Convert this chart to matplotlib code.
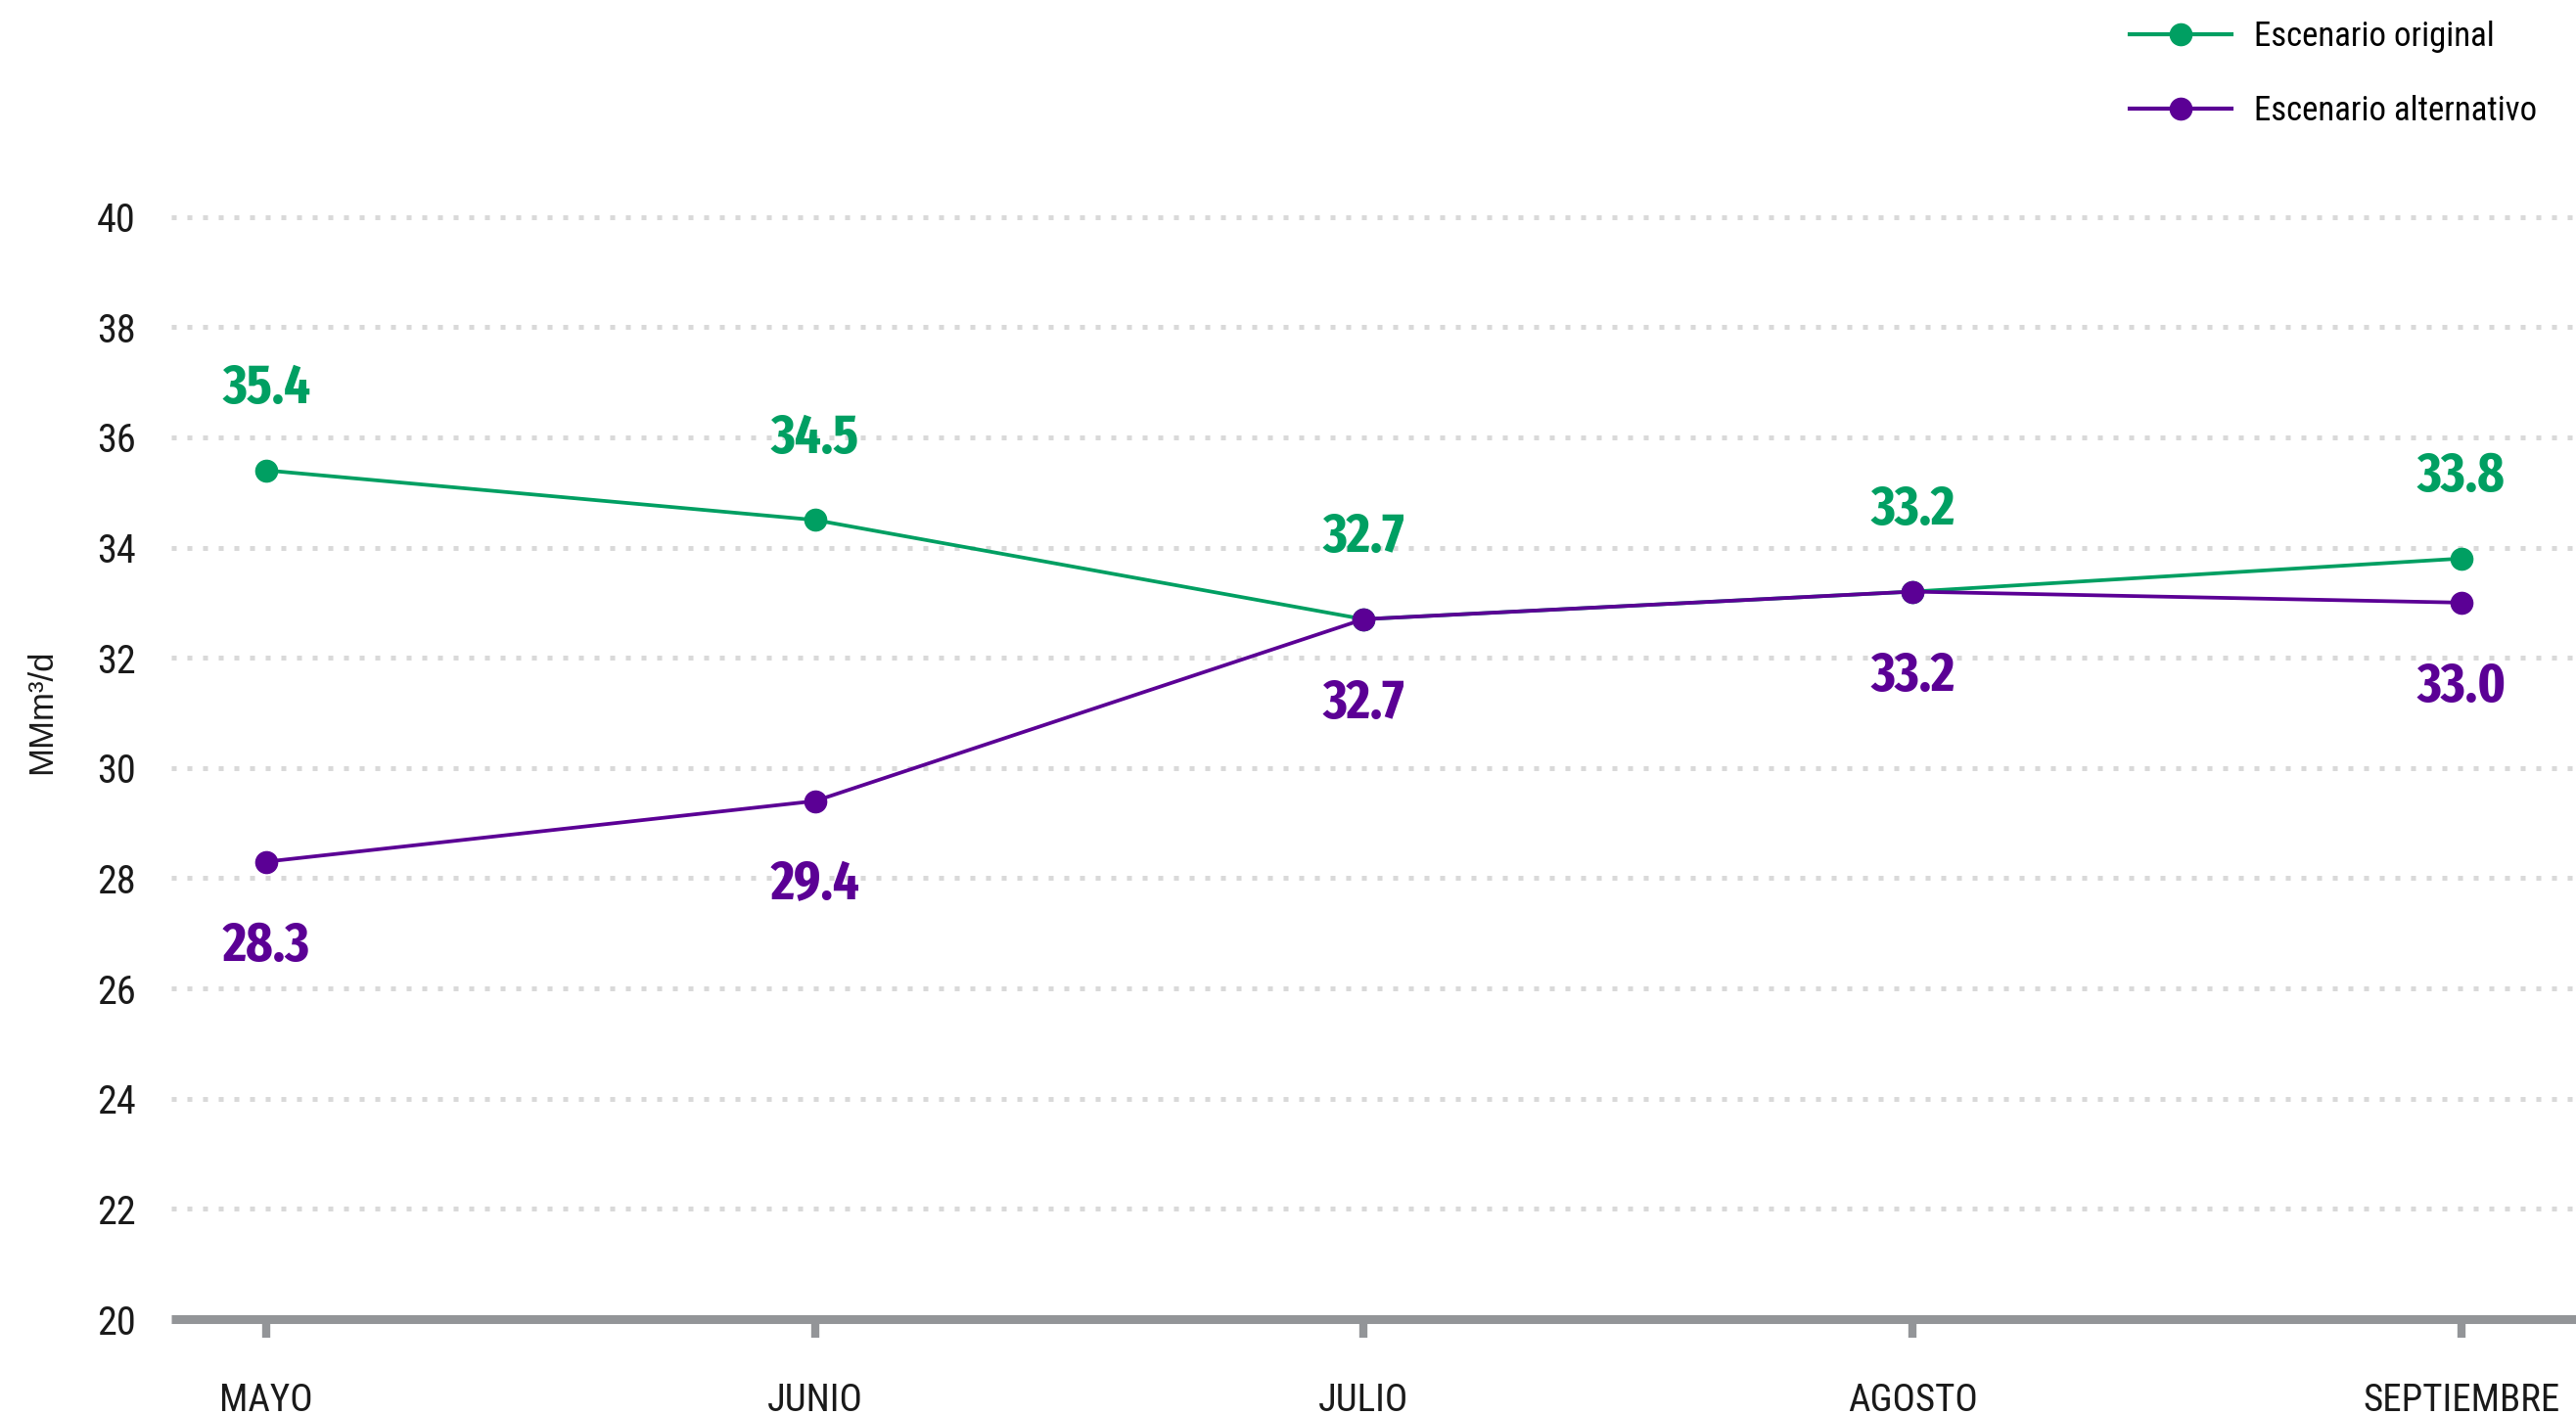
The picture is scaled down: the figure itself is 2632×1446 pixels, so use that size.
import matplotlib
matplotlib.use("Agg")
import matplotlib.pyplot as plt
from matplotlib.lines import Line2D

# -------------------- datos --------------------
meses = ["MAYO", "JUNIO", "JULIO", "AGOSTO", "SEPTIEMBRE"]
original = [35.4, 34.5, 32.7, 33.2, 33.8]
alternativo = [28.3, 29.4, 32.7, 33.2, 33.0]
y_ticks = [20, 22, 24, 26, 28, 30, 32, 34, 36, 38, 40]

nombre_original = "Escenario original"
nombre_alternativo = "Escenario alternativo"
y_label = "MMm³/d"

verde = "#009F62"
morado = "#5B0095"
gris_eje = "#939598"
gris_grid = "#D9D9D9"

plt.rcParams["font.family"] = ["Roboto Condensed", "DejaVu Sans"]

W, H = 2632, 1446
fig = plt.figure(figsize=(W / 100, H / 100), dpi=100)

# ejes colocados a mano (pixeles de la referencia)
px_per_unit = (1348 - 221.6) / 20.0
y_top = 40.6
top_px = 1348 - (y_top - 20) * px_per_unit
ax = fig.add_axes([175 / W, 1 - 1348 / H, 1 - 175 / W, (1348 - top_px) / H])

x = list(range(len(meses)))
ax.plot(x, original, color=verde, lw=2.7, marker="o", ms=16, zorder=3)
ax.plot(x, alternativo, color=morado, lw=2.7, marker="o", ms=16, zorder=4)

# etiquetas de valor
lbl_font = dict(family=["Fira Sans Extra Condensed", "DejaVu Sans"], weight="bold", fontsize=41)
for xi, v in zip(x, original):
    ax.annotate(f"{v:.1f}", (xi, v), xytext=(0, 60), textcoords="offset points",
                ha="center", va="center", color=verde, **lbl_font)
for xi, v in zip(x, alternativo):
    ax.annotate(f"{v:.1f}", (xi, v), xytext=(0, -62), textcoords="offset points",
                ha="center", va="center", color=morado, **lbl_font)

ax.set_xlim(-0.173, 4.209)
ax.set_ylim(20, y_top)
ax.set_yticks(y_ticks)
ax.set_yticklabels([str(t) for t in y_ticks])
ax.set_xticks(x)
ax.set_xticklabels(meses)

for s in ["top", "right", "left"]:
    ax.spines[s].set_visible(False)
ax.spines["bottom"].set_color(gris_eje)
ax.spines["bottom"].set_linewidth(6.5)
ax.spines["bottom"].set_capstyle("butt")

ax.tick_params(axis="x", direction="out", length=14, width=6, color=gris_eje,
               pad=33, labelsize=28, labelcolor="#1a1a1a")
ax.tick_params(axis="y", length=0, pad=26, labelsize=29, labelcolor="#1a1a1a")

# grilla punteada
for t in y_ticks[1:]:
    ax.axhline(t, color=gris_grid, lw=3.6, linestyle=(0, (1, 2.2)),
               dash_capstyle="butt", zorder=1)

ax.set_ylabel(y_label, fontsize=25, color="#1a1a1a",
              family=["Liberation Sans", "DejaVu Sans"])
ax.yaxis.set_label_coords(-0.0472, 0.535)

handles = [
    Line2D([], [], color=verde, lw=3.0, marker="o", ms=16),
    Line2D([], [], color=morado, lw=3.0, marker="o", ms=16),
]
fig.legend(handles, [nombre_original, nombre_alternativo], loc="upper right",
           bbox_to_anchor=(2592 / W, 1 - 21 / H), frameon=False, fontsize=25,
           handlelength=3.0, handletextpad=0.65, labelspacing=1.25,
           borderpad=0, borderaxespad=0)

fig.savefig("out.png", dpi=100, facecolor="white")
